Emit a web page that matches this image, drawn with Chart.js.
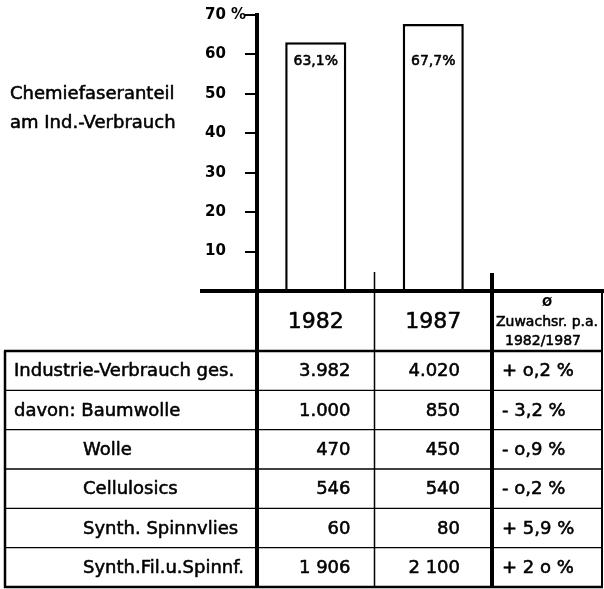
<!DOCTYPE html>
<html>
<head>
<meta charset="utf-8">
<script src="https://cdn.jsdelivr.net/npm/chart.js@4/dist/chart.umd.min.js"></script>
<style>
  html, body { margin: 0; padding: 0; background: #fff; }
  #wrap { width: 604px; height: 589px; }
</style>
</head>
<body>
<div id="wrap"><canvas id="c" width="604" height="589"></canvas></div>
<script>
// Share of man-made fibres in industrial consumption
const categories = ['1982', '1987'];
const shareValues = [63.1, 67.7];
const shareLabels = ['63,1%', '67,7%'];
const yTickMax = 70;
const yTickStep = 10;
const titleLines = ['Chemiefaseranteil', 'am Ind.-Verbrauch'];

// Industrial consumption table
const rowLabels = ['Industrie-Verbrauch ges.', 'davon: Baumwolle', 'Wolle', 'Cellulosics', 'Synth. Spinnvlies', 'Synth.Fil.u.Spinnf.'];
const values1982 = ['3.982', '1.000', '470', '546', '60', '1 906'];
const values1987 = ['4.020', '850', '450', '540', '80', '2 100'];
const growthRates = ['+ o,2 %', '- 3,2 %', '- o,9 %', '- o,2 %', '+ 5,9 %', '+ 2 o %'];
const growthHeader = ['Ø', 'Zuwachsr. p.a.', '1982/1987'];

const FONT = "'DejaVu Sans', sans-serif";
Chart.defaults.font.family = FONT;
Chart.defaults.color = '#000';

const tablePlugin = {
  id: 'fiberTable',
  afterDraw(chart) {
    const ctx = chart.ctx;
    const xs = chart.scales.x;
    const ys = chart.scales.y;
    const base = ys.getPixelForValue(0);
    const c0 = xs.left;
    const c2 = xs.right;
    const c1 = (xs.getPixelForValue(0) + xs.getPixelForValue(1)) / 2;
    const c3 = 602;
    const tLeft = 5;
    const headBottom = base + 60;
    const bottom = 587;
    const rowH = (bottom - headBottom) / rowLabels.length;

    ctx.save();
    ctx.strokeStyle = '#000';
    ctx.fillStyle = '#000';
    ctx.lineJoin = 'round';
    const line = (x1, y1, x2, y2, w) => {
      ctx.lineWidth = w;
      ctx.beginPath();
      ctx.moveTo(x1, y1);
      ctx.lineTo(x2, y2);
      ctx.stroke();
    };
    // lettering drawn slightly heavier than the regular face
    const text = (s, x, y) => {
      ctx.lineWidth = 0.55;
      ctx.fillText(s, x, y);
      ctx.strokeText(s, x, y);
    };

    // left-hand caption
    ctx.font = '18px ' + FONT;
    ctx.textAlign = 'left';
    ctx.textBaseline = 'middle';
    text(titleLines[0], 10, 94);
    text(titleLines[1], 10, 123);

    // value labels inside the bars
    ctx.font = '14px ' + FONT;
    ctx.textAlign = 'center';
    const meta = chart.getDatasetMeta(0);
    meta.data.forEach((bar, i) => {
      text(shareLabels[i], bar.x, ys.getPixelForValue(58.3));
    });

    // baseline and column rules
    line(200, base, 604, base, 4);
    line(c0, base, c0, bottom + 1, 4);
    line(c1, base - 19, c1, bottom, 1.5);
    line(c2, base - 18, c2, bottom + 1, 4);
    line(c3, base, c3, bottom + 1, 2);
    line(tLeft, headBottom, tLeft, bottom + 1, 2.5);
    line(tLeft - 1, headBottom, c3 + 1, headBottom, 2.5);
    line(tLeft - 1, bottom, c3 + 1, bottom, 2.5);
    for (let i = 1; i < rowLabels.length; i++) {
      line(tLeft, headBottom + i * rowH, c3, headBottom + i * rowH, 1.3);
    }

    // header row
    const headMid = (base + headBottom) / 2;
    ctx.font = '22px ' + FONT;
    ctx.textAlign = 'center';
    text(categories[0], (c0 + c1) / 2, headMid + 1);
    text(categories[1], (c1 + c2) / 2, headMid + 1);
    const gMid = (c2 + c3) / 2;
    ctx.font = 'bold 12px ' + FONT;
    ctx.fillText(growthHeader[0], gMid, base + 12);
    ctx.font = '14px ' + FONT;
    text(growthHeader[1], gMid, base + 31);
    text(growthHeader[2], gMid - 4, base + 50);

    // body rows
    ctx.font = '18px ' + FONT;
    rowLabels.forEach((label, i) => {
      const yMid = headBottom + (i + 0.5) * rowH + 1;
      ctx.textAlign = 'left';
      text(label, i < 2 ? 14 : 83, yMid);
      ctx.textAlign = 'right';
      text(values1982[i], c1 - 24, yMid);
      text(values1987[i], c2 - 32, yMid);
      ctx.textAlign = 'left';
      text(growthRates[i], c2 + 10, yMid);
    });
    ctx.restore();
  }
};

new Chart(document.getElementById('c'), {
  type: 'bar',
  data: {
    labels: categories,
    datasets: [{
      data: shareValues,
      backgroundColor: '#fff',
      borderColor: '#000',
      borderWidth: 2.5,
      borderSkipped: 'bottom',
      categoryPercentage: 1,
      barPercentage: 0.52
    }]
  },
  options: {
    responsive: false,
    animation: false,
    devicePixelRatio: 1,
    layout: { padding: { left: 205, right: 112, top: 15, bottom: 298 } },
    plugins: { legend: { display: false }, tooltip: { enabled: false } },
    scales: {
      x: { display: false },
      y: {
        min: 0,
        max: yTickMax,
        afterFit(scale) {
          scale.width = 52;
          scale.paddingTop = 0;
          scale.paddingBottom = 0;
        },
        ticks: {
          stepSize: yTickStep,
          crossAlign: 'far',
          font: { size: 15, weight: 'bold' },
          color: '#000',
          callback: (v) => v === 0 ? '' : (v === yTickMax ? v + ' %' : String(v))
        },
        grid: {
          drawOnChartArea: false,
          drawTicks: true,
          tickLength: 12,
          lineWidth: 2,
          color: '#000'
        },
        border: { display: true, width: 4, color: '#000' }
      }
    }
  },
  plugins: [tablePlugin]
});
</script>
</body>
</html>
